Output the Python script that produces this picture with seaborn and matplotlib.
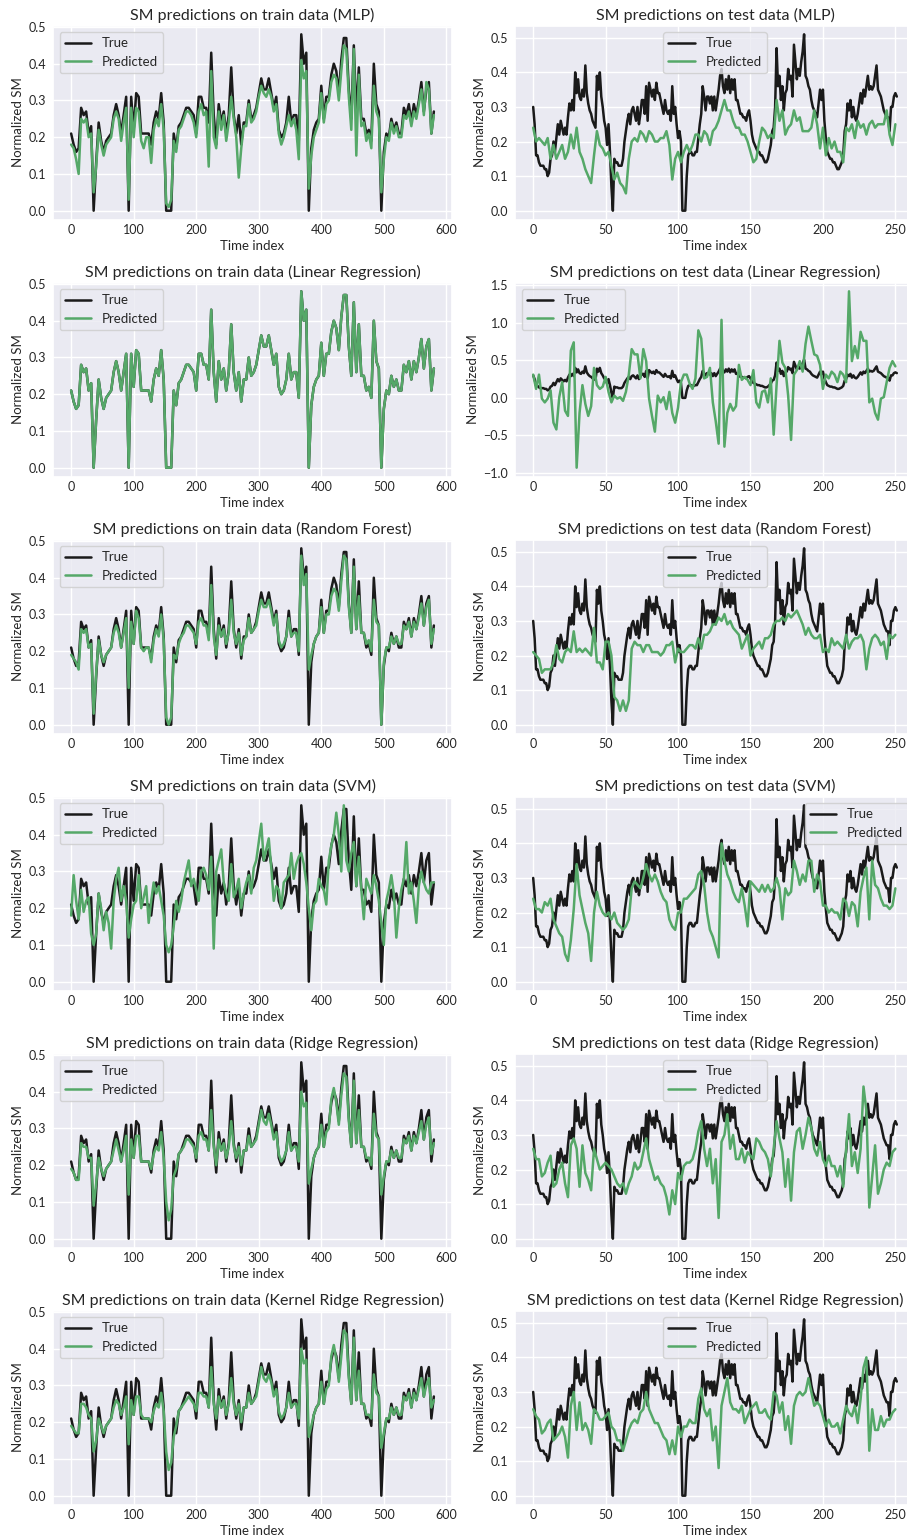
import numpy as np
import matplotlib
matplotlib.use("Agg")
import matplotlib.pyplot as plt
import seaborn as sns

# ---- data (train: every 4th index, test pred: every 2nd) ----
train_idx = np.arange(0, 584, 4)
test_idx = np.arange(0, 252)
test_pred_idx = np.arange(0, 252, 2)

train_true = [0.21, 0.18, 0.16, 0.17, 0.28, 0.26, 0.27, 0.21, 0.23, 0.00,
              0.13, 0.24, 0.19, 0.16, 0.19, 0.20, 0.21, 0.26, 0.29, 0.26,
              0.21, 0.26, 0.31, 0.00, 0.31, 0.22, 0.32, 0.31, 0.21, 0.21,
              0.21, 0.21, 0.18, 0.24, 0.27, 0.25, 0.32, 0.24, 0.00, 0.00,
              0.00, 0.21, 0.17, 0.23, 0.24, 0.26, 0.28, 0.28, 0.27, 0.26,
              0.21, 0.31, 0.31, 0.28, 0.28, 0.24, 0.43, 0.26, 0.18, 0.29,
              0.24, 0.27, 0.21, 0.26, 0.39, 0.26, 0.21, 0.26, 0.18, 0.24,
              0.24, 0.30, 0.25, 0.26, 0.28, 0.32, 0.36, 0.33, 0.33, 0.36,
              0.32, 0.28, 0.31, 0.22, 0.20, 0.21, 0.24, 0.31, 0.24, 0.26,
              0.26, 0.19, 0.48, 0.40, 0.43, 0.00, 0.17, 0.22, 0.24, 0.25,
              0.34, 0.25, 0.31, 0.31, 0.37, 0.40, 0.38, 0.32, 0.41, 0.47,
              0.47, 0.33, 0.25, 0.45, 0.26, 0.39, 0.25, 0.25, 0.21, 0.22,
              0.19, 0.40, 0.29, 0.27, 0.00, 0.16, 0.21, 0.20, 0.25, 0.22,
              0.24, 0.21, 0.21, 0.28, 0.26, 0.29, 0.24, 0.29, 0.26, 0.30,
              0.35, 0.27, 0.33, 0.35, 0.21, 0.27]

mlp_train = [0.18, 0.17, 0.14, 0.10, 0.25, 0.24, 0.25, 0.20, 0.21, 0.05,
             0.12, 0.22, 0.18, 0.15, 0.18, 0.19, 0.20, 0.25, 0.27, 0.25,
             0.19, 0.24, 0.28, 0.03, 0.28, 0.20, 0.28, 0.27, 0.19, 0.17,
             0.20, 0.20, 0.13, 0.22, 0.25, 0.23, 0.29, 0.22, 0.02, 0.01,
             0.03, 0.19, 0.16, 0.22, 0.23, 0.25, 0.27, 0.27, 0.26, 0.24,
             0.20, 0.27, 0.29, 0.26, 0.27, 0.12, 0.38, 0.20, 0.17, 0.27,
             0.22, 0.26, 0.19, 0.24, 0.31, 0.25, 0.20, 0.09, 0.17, 0.23,
             0.23, 0.29, 0.24, 0.25, 0.27, 0.31, 0.34, 0.32, 0.31, 0.33,
             0.31, 0.27, 0.29, 0.21, 0.18, 0.20, 0.23, 0.26, 0.23, 0.25,
             0.22, 0.14, 0.41, 0.36, 0.38, 0.06, 0.15, 0.20, 0.22, 0.24,
             0.32, 0.24, 0.29, 0.30, 0.35, 0.37, 0.36, 0.30, 0.38, 0.45,
             0.44, 0.31, 0.22, 0.44, 0.15, 0.37, 0.23, 0.24, 0.19, 0.21,
             0.17, 0.34, 0.27, 0.25, 0.05, 0.14, 0.20, 0.19, 0.24, 0.21,
             0.23, 0.20, 0.20, 0.26, 0.25, 0.27, 0.23, 0.27, 0.25, 0.29,
             0.33, 0.26, 0.35, 0.33, 0.21, 0.26]

lr_train = list(train_true)  # linear regression sits right on top of the truth

rf_train = [0.19, 0.18, 0.17, 0.15, 0.26, 0.25, 0.26, 0.21, 0.22, 0.03,
            0.14, 0.23, 0.19, 0.17, 0.19, 0.20, 0.21, 0.25, 0.27, 0.25,
            0.21, 0.25, 0.29, 0.10, 0.28, 0.22, 0.31, 0.29, 0.21, 0.20,
            0.21, 0.21, 0.17, 0.23, 0.26, 0.24, 0.30, 0.23, 0.02, 0.00,
            0.02, 0.19, 0.18, 0.22, 0.24, 0.25, 0.27, 0.27, 0.26, 0.25,
            0.22, 0.28, 0.29, 0.27, 0.27, 0.23, 0.38, 0.24, 0.19, 0.27,
            0.24, 0.26, 0.22, 0.25, 0.34, 0.25, 0.22, 0.25, 0.19, 0.23,
            0.24, 0.29, 0.25, 0.26, 0.27, 0.31, 0.34, 0.32, 0.32, 0.34,
            0.31, 0.27, 0.30, 0.23, 0.21, 0.22, 0.24, 0.29, 0.24, 0.25,
            0.25, 0.20, 0.46, 0.38, 0.41, 0.15, 0.19, 0.22, 0.24, 0.25,
            0.32, 0.25, 0.30, 0.30, 0.35, 0.37, 0.36, 0.31, 0.39, 0.46,
            0.45, 0.32, 0.25, 0.43, 0.26, 0.35, 0.25, 0.25, 0.22, 0.23,
            0.20, 0.34, 0.28, 0.27, 0.00, 0.17, 0.21, 0.21, 0.24, 0.22,
            0.24, 0.22, 0.22, 0.27, 0.26, 0.28, 0.24, 0.28, 0.26, 0.29,
            0.33, 0.27, 0.32, 0.34, 0.22, 0.26]

svm_train = [0.18, 0.29, 0.22, 0.17, 0.25, 0.19, 0.22, 0.23, 0.13, 0.10,
             0.13, 0.24, 0.20, 0.14, 0.19, 0.16, 0.09, 0.22, 0.28, 0.31,
             0.22, 0.26, 0.22, 0.12, 0.17, 0.21, 0.22, 0.29, 0.20, 0.23,
             0.26, 0.16, 0.22, 0.27, 0.24, 0.26, 0.22, 0.18, 0.10, 0.08,
             0.10, 0.15, 0.22, 0.19, 0.22, 0.27, 0.30, 0.33, 0.26, 0.28,
             0.25, 0.22, 0.30, 0.31, 0.29, 0.25, 0.34, 0.09, 0.30, 0.33,
             0.36, 0.27, 0.24, 0.22, 0.32, 0.23, 0.25, 0.28, 0.20, 0.24,
             0.27, 0.29, 0.24, 0.31, 0.33, 0.38, 0.43, 0.33, 0.36, 0.39,
             0.31, 0.22, 0.26, 0.25, 0.20, 0.27, 0.28, 0.29, 0.35, 0.28,
             0.32, 0.34, 0.35, 0.32, 0.27, 0.20, 0.14, 0.21, 0.22, 0.28,
             0.26, 0.25, 0.21, 0.33, 0.37, 0.40, 0.46, 0.40, 0.30, 0.48,
             0.33, 0.30, 0.35, 0.38, 0.26, 0.34, 0.25, 0.17, 0.28, 0.26,
             0.24, 0.29, 0.26, 0.22, 0.16, 0.10, 0.22, 0.25, 0.29, 0.24,
             0.12, 0.20, 0.25, 0.28, 0.38, 0.24, 0.27, 0.22, 0.16, 0.26,
             0.30, 0.27, 0.25, 0.24, 0.27, 0.27]

ridge_train = [0.19, 0.18, 0.16, 0.16, 0.26, 0.25, 0.25, 0.22, 0.22, 0.09,
               0.15, 0.22, 0.19, 0.17, 0.19, 0.20, 0.21, 0.24, 0.27, 0.24,
               0.21, 0.24, 0.28, 0.12, 0.27, 0.22, 0.28, 0.28, 0.21, 0.21,
               0.21, 0.21, 0.19, 0.23, 0.25, 0.24, 0.29, 0.22, 0.10, 0.05,
               0.08, 0.17, 0.19, 0.23, 0.24, 0.25, 0.27, 0.27, 0.26, 0.25,
               0.22, 0.28, 0.29, 0.27, 0.27, 0.24, 0.35, 0.25, 0.20, 0.27,
               0.24, 0.26, 0.22, 0.25, 0.32, 0.25, 0.22, 0.25, 0.20, 0.24,
               0.24, 0.28, 0.25, 0.26, 0.27, 0.31, 0.35, 0.32, 0.31, 0.34,
               0.31, 0.27, 0.29, 0.23, 0.21, 0.22, 0.24, 0.29, 0.24, 0.25,
               0.25, 0.21, 0.40, 0.36, 0.37, 0.15, 0.19, 0.22, 0.24, 0.25,
               0.31, 0.25, 0.29, 0.30, 0.38, 0.41, 0.37, 0.31, 0.39, 0.45,
               0.44, 0.32, 0.25, 0.43, 0.26, 0.35, 0.25, 0.25, 0.22, 0.22,
               0.20, 0.34, 0.28, 0.27, 0.12, 0.17, 0.21, 0.21, 0.24, 0.22,
               0.24, 0.22, 0.22, 0.27, 0.26, 0.28, 0.24, 0.28, 0.26, 0.29,
               0.32, 0.27, 0.31, 0.33, 0.23, 0.26]

krr_train = [0.19, 0.18, 0.17, 0.17, 0.25, 0.25, 0.24, 0.22, 0.21, 0.12,
             0.15, 0.21, 0.19, 0.17, 0.19, 0.20, 0.21, 0.24, 0.26, 0.25,
             0.22, 0.24, 0.27, 0.14, 0.26, 0.22, 0.27, 0.27, 0.22, 0.21,
             0.21, 0.21, 0.20, 0.23, 0.25, 0.24, 0.28, 0.23, 0.12, 0.07,
             0.09, 0.16, 0.19, 0.23, 0.24, 0.25, 0.26, 0.27, 0.26, 0.25,
             0.23, 0.28, 0.28, 0.27, 0.27, 0.24, 0.35, 0.25, 0.21, 0.27,
             0.24, 0.26, 0.22, 0.25, 0.32, 0.25, 0.22, 0.25, 0.20, 0.24,
             0.24, 0.28, 0.25, 0.26, 0.27, 0.31, 0.35, 0.32, 0.31, 0.33,
             0.31, 0.27, 0.29, 0.23, 0.21, 0.22, 0.24, 0.28, 0.24, 0.25,
             0.25, 0.21, 0.40, 0.36, 0.37, 0.16, 0.19, 0.22, 0.24, 0.25,
             0.31, 0.25, 0.29, 0.30, 0.38, 0.41, 0.37, 0.31, 0.38, 0.45,
             0.44, 0.32, 0.25, 0.43, 0.26, 0.34, 0.25, 0.25, 0.22, 0.22,
             0.21, 0.33, 0.28, 0.27, 0.13, 0.17, 0.21, 0.21, 0.24, 0.22,
             0.24, 0.22, 0.22, 0.27, 0.26, 0.28, 0.24, 0.28, 0.26, 0.29,
             0.32, 0.27, 0.30, 0.32, 0.24, 0.26]

test_true = [0.30, 0.25, 0.16, 0.16, 0.14, 0.13, 0.13, 0.13, 0.12, 0.12,
             0.10, 0.11, 0.15, 0.16, 0.20, 0.17, 0.21, 0.25, 0.22, 0.26,
             0.24, 0.22, 0.24, 0.22, 0.27, 0.31, 0.29, 0.32, 0.29, 0.40,
             0.34, 0.38, 0.33, 0.32, 0.35, 0.33, 0.42, 0.34, 0.31, 0.29,
             0.28, 0.26, 0.25, 0.24, 0.39, 0.35, 0.40, 0.33, 0.30, 0.26,
             0.24, 0.19, 0.25, 0.17, 0.07, 0.00, 0.15, 0.14, 0.14, 0.13,
             0.13, 0.13, 0.15, 0.20, 0.23, 0.26, 0.28, 0.25, 0.29, 0.30,
             0.28, 0.26, 0.30, 0.25, 0.28, 0.32, 0.32, 0.28, 0.36, 0.26,
             0.37, 0.35, 0.33, 0.35, 0.32, 0.37, 0.34, 0.34, 0.32, 0.30,
             0.28, 0.32, 0.29, 0.28, 0.29, 0.26, 0.36, 0.28, 0.30, 0.25,
             0.21, 0.23, 0.20, 0.00, 0.00, 0.00, 0.10, 0.16, 0.17, 0.17,
             0.16, 0.16, 0.17, 0.17, 0.21, 0.25, 0.28, 0.36, 0.33, 0.29,
             0.33, 0.33, 0.31, 0.33, 0.29, 0.33, 0.29, 0.32, 0.35, 0.39,
             0.41, 0.36, 0.34, 0.38, 0.35, 0.39, 0.34, 0.38, 0.35, 0.38,
             0.32, 0.32, 0.30, 0.28, 0.28, 0.27, 0.27, 0.26, 0.28, 0.29,
             0.26, 0.22, 0.20, 0.19, 0.18, 0.17, 0.17, 0.16, 0.16, 0.15,
             0.14, 0.14, 0.15, 0.17, 0.19, 0.23, 0.24, 0.30, 0.47, 0.36,
             0.39, 0.32, 0.36, 0.29, 0.34, 0.35, 0.41, 0.38, 0.39, 0.33,
             0.48, 0.43, 0.38, 0.41, 0.39, 0.43, 0.46, 0.51, 0.39, 0.38,
             0.36, 0.35, 0.32, 0.30, 0.29, 0.28, 0.27, 0.31, 0.35, 0.32,
             0.35, 0.26, 0.21, 0.17, 0.16, 0.15, 0.15, 0.14, 0.14, 0.13,
             0.12, 0.12, 0.13, 0.14, 0.16, 0.23, 0.25, 0.31, 0.29, 0.32,
             0.27, 0.30, 0.27, 0.26, 0.28, 0.31, 0.34, 0.31, 0.35, 0.33,
             0.36, 0.39, 0.35, 0.36, 0.35, 0.36, 0.39, 0.42, 0.35, 0.34,
             0.33, 0.31, 0.29, 0.28, 0.27, 0.27, 0.23, 0.30, 0.30, 0.33,
             0.34, 0.33]

mlp_test = [0.24, 0.20, 0.21, 0.20, 0.19, 0.21, 0.15, 0.19, 0.15, 0.17,
            0.19, 0.15, 0.17, 0.22, 0.18, 0.24, 0.17, 0.15, 0.12, 0.10,
            0.08, 0.16, 0.23, 0.19, 0.18, 0.16, 0.17, 0.13, 0.09, 0.11,
            0.08, 0.07, 0.05, 0.15, 0.20, 0.21, 0.20, 0.23, 0.22, 0.20,
            0.23, 0.22, 0.20, 0.20, 0.21, 0.21, 0.23, 0.19, 0.09, 0.15,
            0.17, 0.14, 0.17, 0.19, 0.17, 0.19, 0.22, 0.22, 0.20, 0.23,
            0.22, 0.19, 0.23, 0.24, 0.26, 0.29, 0.32, 0.29, 0.29, 0.26,
            0.24, 0.24, 0.22, 0.22, 0.20, 0.17, 0.14, 0.15, 0.20, 0.24,
            0.23, 0.21, 0.22, 0.21, 0.32, 0.26, 0.29, 0.22, 0.24, 0.25,
            0.29, 0.26, 0.27, 0.23, 0.23, 0.23, 0.24, 0.29, 0.25, 0.18,
            0.24, 0.16, 0.21, 0.18, 0.20, 0.17, 0.17, 0.14, 0.24, 0.23,
            0.25, 0.21, 0.26, 0.24, 0.25, 0.22, 0.25, 0.26, 0.24, 0.25,
            0.25, 0.25, 0.29, 0.22, 0.19, 0.25]

lr_test = [0.31, 0.12, 0.31, -0.01, -0.06, -0.01, 0.10, -0.33, -0.42, 0.01,
           0.21, -0.17, -0.24, 0.63, 0.74, -0.93, -0.20, 0.17, -0.08, -0.24,
           -0.11, 0.40, 0.17, 0.12, 0.15, 0.28, 0.08, -0.06, 0.03, -0.01,
           0.01, -0.04, 0.08, 0.31, 0.65, 0.58, 0.58, 0.26, 0.65, 0.49,
           -0.01, -0.24, -0.45, 0.03, -0.06, 0.01, -0.15, 0.08, -0.20, -0.33,
           -0.13, 0.21, 0.31, 0.31, 0.19, 0.12, 0.26, 0.90, 0.79, 0.26,
           0.28, 0.40, -0.06, -0.31, -0.61, 1.04, -0.65, -0.20, -0.08, -0.17,
           -0.11, 0.44, 0.24, 0.28, 0.24, 0.17, 0.37, -0.06, -0.13, 0.08,
           0.10, -0.06, 0.26, -0.49, 0.17, 0.76, 0.47, 0.40, 0.03, -0.56,
           0.31, 0.37, 0.49, 0.35, 0.72, 0.95, 0.76, 0.58, 0.56, 0.44,
           0.12, 0.31, 0.26, 0.35, 0.31, 0.21, 0.35, 0.31, 0.21, 1.42,
           0.49, 0.69, 0.53, 0.88, 0.76, 0.76, -0.06, -0.01, -0.20, -0.29,
           -0.01, 0.01, 0.21, 0.40, 0.49, 0.42]

rf_test = [0.21, 0.20, 0.19, 0.15, 0.16, 0.16, 0.16, 0.18, 0.23, 0.19,
           0.18, 0.21, 0.22, 0.21, 0.27, 0.21, 0.22, 0.21, 0.22, 0.21,
           0.20, 0.28, 0.18, 0.18, 0.16, 0.24, 0.24, 0.20, 0.08, 0.07,
           0.04, 0.07, 0.04, 0.07, 0.22, 0.24, 0.23, 0.23, 0.21, 0.23,
           0.23, 0.21, 0.21, 0.21, 0.20, 0.21, 0.23, 0.23, 0.24, 0.18,
           0.22, 0.21, 0.21, 0.22, 0.23, 0.23, 0.22, 0.25, 0.22, 0.26,
           0.26, 0.27, 0.29, 0.29, 0.31, 0.30, 0.32, 0.29, 0.30, 0.28,
           0.27, 0.26, 0.22, 0.24, 0.26, 0.20, 0.22, 0.23, 0.24, 0.22,
           0.25, 0.25, 0.26, 0.29, 0.30, 0.30, 0.31, 0.30, 0.32, 0.31,
           0.32, 0.33, 0.31, 0.29, 0.26, 0.28, 0.26, 0.25, 0.25, 0.26,
           0.21, 0.22, 0.21, 0.25, 0.23, 0.24, 0.23, 0.22, 0.26, 0.22,
           0.24, 0.25, 0.25, 0.26, 0.24, 0.16, 0.22, 0.25, 0.26, 0.25,
           0.23, 0.24, 0.19, 0.26, 0.25, 0.26]

svm_test = [0.24, 0.21, 0.21, 0.20, 0.23, 0.22, 0.24, 0.18, 0.16, 0.14,
            0.13, 0.08, 0.06, 0.12, 0.21, 0.34, 0.25, 0.21, 0.17, 0.14,
            0.06, 0.20, 0.26, 0.22, 0.20, 0.19, 0.20, 0.18, 0.20, 0.17,
            0.16, 0.15, 0.16, 0.18, 0.27, 0.29, 0.28, 0.27, 0.30, 0.34,
            0.31, 0.29, 0.31, 0.29, 0.26, 0.24, 0.23, 0.18, 0.16, 0.15,
            0.20, 0.20, 0.24, 0.24, 0.25, 0.26, 0.27, 0.31, 0.32, 0.28,
            0.20, 0.15, 0.13, 0.10, 0.07, 0.40, 0.35, 0.31, 0.29, 0.26,
            0.24, 0.23, 0.27, 0.22, 0.16, 0.29, 0.28, 0.27, 0.26, 0.28,
            0.26, 0.28, 0.26, 0.27, 0.30, 0.27, 0.18, 0.27, 0.25, 0.26,
            0.35, 0.32, 0.28, 0.31, 0.29, 0.35, 0.35, 0.26, 0.31, 0.29,
            0.22, 0.22, 0.20, 0.21, 0.20, 0.20, 0.18, 0.24, 0.23, 0.19,
            0.23, 0.22, 0.16, 0.26, 0.30, 0.33, 0.18, 0.35, 0.28, 0.27,
            0.24, 0.22, 0.22, 0.21, 0.22, 0.27]

ridge_test = [0.26, 0.23, 0.23, 0.18, 0.19, 0.22, 0.24, 0.15, 0.16, 0.20,
              0.22, 0.16, 0.12, 0.27, 0.29, 0.26, 0.15, 0.27, 0.19, 0.17,
              0.14, 0.26, 0.23, 0.20, 0.21, 0.22, 0.21, 0.20, 0.18, 0.16,
              0.15, 0.16, 0.13, 0.16, 0.18, 0.22, 0.20, 0.21, 0.25, 0.29,
              0.23, 0.20, 0.17, 0.18, 0.16, 0.15, 0.12, 0.07, 0.14, 0.10,
              0.19, 0.17, 0.21, 0.22, 0.22, 0.23, 0.26, 0.31, 0.34, 0.26,
              0.21, 0.26, 0.16, 0.23, 0.06, 0.28, 0.30, 0.36, 0.26, 0.30,
              0.23, 0.23, 0.26, 0.22, 0.25, 0.24, 0.23, 0.29, 0.28, 0.26,
              0.25, 0.23, 0.18, 0.26, 0.34, 0.29, 0.25, 0.15, 0.23, 0.11,
              0.25, 0.31, 0.32, 0.26, 0.30, 0.35, 0.32, 0.26, 0.24, 0.28,
              0.23, 0.21, 0.24, 0.21, 0.21, 0.18, 0.21, 0.15, 0.26, 0.36,
              0.21, 0.25, 0.19, 0.26, 0.44, 0.37, 0.09, 0.18, 0.27, 0.13,
              0.16, 0.20, 0.22, 0.21, 0.25, 0.26]

krr_test = [0.25, 0.23, 0.22, 0.18, 0.19, 0.21, 0.22, 0.16, 0.17, 0.18,
            0.20, 0.17, 0.11, 0.26, 0.30, 0.19, 0.27, 0.19, 0.21, 0.19,
            0.15, 0.25, 0.24, 0.22, 0.22, 0.23, 0.24, 0.20, 0.19, 0.16,
            0.16, 0.13, 0.16, 0.19, 0.21, 0.22, 0.21, 0.24, 0.25, 0.30,
            0.25, 0.23, 0.21, 0.21, 0.19, 0.17, 0.16, 0.12, 0.16, 0.12,
            0.20, 0.17, 0.20, 0.20, 0.22, 0.21, 0.21, 0.28, 0.31, 0.25,
            0.23, 0.25, 0.16, 0.20, 0.08, 0.26, 0.30, 0.34, 0.27, 0.25,
            0.25, 0.24, 0.26, 0.21, 0.23, 0.25, 0.26, 0.27, 0.24, 0.24,
            0.25, 0.23, 0.22, 0.30, 0.29, 0.24, 0.27, 0.19, 0.23, 0.15,
            0.26, 0.29, 0.30, 0.29, 0.30, 0.34, 0.30, 0.26, 0.27, 0.26,
            0.23, 0.20, 0.22, 0.20, 0.20, 0.21, 0.18, 0.22, 0.26, 0.24,
            0.23, 0.26, 0.21, 0.28, 0.37, 0.40, 0.13, 0.25, 0.19, 0.19,
            0.23, 0.20, 0.22, 0.22, 0.24, 0.25]

models = ["MLP", "Linear Regression", "Random Forest", "SVM",
          "Ridge Regression", "Kernel Ridge Regression"]
train_preds = [mlp_train, lr_train, rf_train, svm_train, ridge_train, krr_train]
test_preds = [mlp_test, lr_test, rf_test, svm_test, ridge_test, krr_test]
test_legend_loc = ["upper center", "upper left", "upper center", "upper right",
                   "upper center", "upper center"]

sns.set_theme(style="darkgrid")
plt.rcParams["font.family"] = ["Lato", "DejaVu Sans"]

green = sns.color_palette("deep")[2]

W, H = 907, 1538
fig, axes = plt.subplots(6, 2, figsize=(W / 100, H / 100), dpi=100)

# place axes in pixels: row pitch 257, height 194
for i in range(6):
    top = 25.5 + 257 * i
    axes[i, 0].set_position([53 / W, 1 - (top + 194) / H, 399 / W, 194 / H])
    axes[i, 1].set_position([515 / W, 1 - (top + 194) / H, 400 / W, 194 / H])


def style_axes(ax, title, ticks, loc):
    ax.set_title(title, fontsize=11.5, pad=4)
    ax.set_xlabel("Time index", fontsize=9.5, labelpad=3)
    ax.set_ylabel("Normalized SM", fontsize=9.5, labelpad=3)
    ax.tick_params(axis="x", labelsize=9, length=0, pad=3)
    ax.tick_params(axis="y", labelsize=9, length=0, pad=5)
    ax.set_xticks(ticks)
    ax.legend(loc=loc, fontsize=9.5)


for i, name in enumerate(models):
    ax = axes[i, 0]
    sns.lineplot(x=train_idx, y=train_true, color="k", lw=1.8,
                 label="True", ax=ax, estimator=None)
    sns.lineplot(x=train_idx, y=train_preds[i], color=green, lw=1.8,
                 label="Predicted", ax=ax, estimator=None)
    style_axes(ax, f"SM predictions on train data ({name})",
               [0, 100, 200, 300, 400, 500, 600], "upper left")

    ax = axes[i, 1]
    sns.lineplot(x=test_idx, y=test_true, color="k", lw=1.8,
                 label="True", ax=ax, estimator=None)
    sns.lineplot(x=test_pred_idx, y=test_preds[i], color=green, lw=1.8,
                 label="Predicted", ax=ax, estimator=None)
    style_axes(ax, f"SM predictions on test data ({name})",
               [0, 50, 100, 150, 200, 250], test_legend_loc[i])

fig.savefig("out.png", dpi=100)
